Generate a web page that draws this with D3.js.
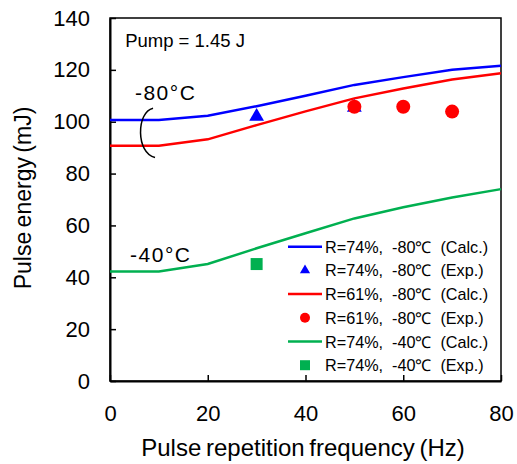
<!DOCTYPE html>
<html>
<head>
<meta charset="utf-8">
<script src="https://cdn.jsdelivr.net/npm/d3@7"></script>
<style>
  body { margin: 0; background: #fff; }
  svg text { font-family: Arial, "Liberation Sans", sans-serif; fill: #000; }
</style>
</head>
<body>
<svg id="chart" width="517" height="464"></svg>
<script>
// frequencies used by the calculated curves (Hz)
let freqs = [0, 10, 20, 30, 40, 50, 60, 70, 80];

// calculated pulse energies (mJ)
let calc74m80 = [100.7, 100.7, 102.3, 106, 110, 114.2, 117.2, 120, 121.6];
let calc61m80 = [90.7, 90.7, 93.2, 98.7, 104, 109, 112.8, 116.3, 118.7];
let calc74m40 = [42.2, 42.2, 45.1, 51.2, 57, 62.7, 67, 70.8, 74];

// experimental points
let exp74m80 = [{f: 30, e: 102}, {f: 50, e: 105.5}];
let exp61m80 = [{f: 50, e: 105.8}, {f: 60, e: 105.8}, {f: 70, e: 103.9}];
let exp74m40 = [{f: 30, e: 45.1}];

let xTicks = [0, 20, 40, 60, 80];
let yTicks = [0, 20, 40, 60, 80, 100, 120, 140];

let legendLabels = [
    "R=74%,  -80\u2103  (Calc.)",
    "R=74%,  -80\u2103  (Exp.)",
    "R=61%,  -80\u2103  (Calc.)",
    "R=61%,  -80\u2103  (Exp.)",
    "R=74%,  -40\u2103  (Calc.)",
    "R=74%,  -40\u2103  (Exp.)"
];

let blue = "#0000ff", red = "#ff0000", green = "#00b050";

let svg = d3.select("#chart");
let pLeft = 110, pRight = 501, pTop = 18, pBottom = 381;

let xScale = d3.scaleLinear().domain([0, 80]).range([pLeft, pRight]);
let yScale = d3.scaleLinear().domain([0, 140]).range([pBottom, pTop]);

// plot frame
svg.append("rect")
   .attr("x", pLeft).attr("y", pTop)
   .attr("width", pRight - pLeft).attr("height", pBottom - pTop)
   .attr("fill", "none").attr("stroke", "#000").attr("stroke-width", 1.5);

// axes, ticks point inward
let xAxis = svg.append("g")
   .attr("transform", "translate(0," + pBottom + ")")
   .call(d3.axisBottom(xScale).tickValues(xTicks).tickSizeInner(-6).tickSizeOuter(0).tickPadding(24));
let yAxis = svg.append("g")
   .attr("transform", "translate(" + pLeft + ",0)")
   .call(d3.axisLeft(yScale).tickValues(yTicks).tickSizeInner(-6).tickSizeOuter(0).tickPadding(20));

[xAxis, yAxis].forEach(function(ax) {
    ax.select(".domain").attr("stroke-width", 2);
    ax.selectAll(".tick line").attr("stroke-width", 1.5);
    ax.selectAll("text").attr("font-size", 22);
});
svg.selectAll("g").attr("font-family", null);

// axis titles
svg.append("text")
   .attr("x", 303).attr("y", 456)
   .attr("text-anchor", "middle").attr("font-size", 24)
   .attr("word-spacing", -2)
   .text("Pulse repetition frequency (Hz)");
svg.append("text")
   .attr("transform", "translate(31,198) rotate(-90)")
   .attr("text-anchor", "middle").attr("font-size", 23)
   .attr("word-spacing", -2)
   .text("Pulse energy (mJ)");

// calculated curves
let line = d3.line().x((d, i) => xScale(freqs[i])).y(d => yScale(d));
[[calc74m80, blue], [calc61m80, red], [calc74m40, green]].forEach(function(s) {
    svg.append("path")
       .datum(s[0])
       .attr("d", line)
       .attr("fill", "none")
       .attr("stroke", s[1])
       .attr("stroke-width", 2.5);
});

// experimental markers
svg.selectAll(".tri")
   .data(exp74m80).enter().append("path")
   .attr("transform", d => "translate(" + xScale(d.f) + "," + yScale(d.e) + ")")
   .attr("d", d3.symbol().type(d3.symbolTriangle).size(95))
   .attr("fill", blue);
svg.selectAll(".dot")
   .data(exp61m80).enter().append("circle")
   .attr("cx", d => xScale(d.f)).attr("cy", d => yScale(d.e))
   .attr("r", 7).attr("fill", red);
svg.selectAll(".sq")
   .data(exp74m40).enter().append("path")
   .attr("transform", d => "translate(" + xScale(d.f) + "," + yScale(d.e) + ")")
   .attr("d", d3.symbol().type(d3.symbolSquare).size(144))
   .attr("fill", green);

// annotations
svg.append("text")
   .attr("x", xScale(3.1)).attr("y", yScale(129))
   .attr("font-size", 18.5)
   .text("Pump = 1.45 J");
svg.append("text")
   .attr("x", xScale(5.1)).attr("y", yScale(108.4))
   .attr("font-size", 21).attr("letter-spacing", 1.5)
   .text("-80\u00b0C");
svg.append("text")
   .attr("x", xScale(4.1)).attr("y", yScale(45.9))
   .attr("font-size", 21).attr("letter-spacing", 1.5)
   .text("-40\u00b0C");

// bracket linking the two -80°C curves
let bx = xScale(8.6), bTop = yScale(105.2), bBot = yScale(86.2);
svg.append("path")
   .attr("d", "M" + (bx + 1) + "," + bTop +
              " C" + (bx - 16) + "," + (bTop + 4) + " " + (bx - 16) + "," + (bBot - 4) + " " + (bx + 3) + "," + bBot)
   .attr("fill", "none").attr("stroke", "#000").attr("stroke-width", 1.5);

// legend
let legX = 288, legY = 246.7, legStep = 23.7;
let legendKinds = [["line", blue], ["tri", blue], ["line", red], ["dot", red], ["line", green], ["sq", green]];
let leg = svg.append("g");
legendKinds.forEach(function(k, i) {
    let cy = legY + i * legStep;
    if (k[0] == "line") {
        leg.append("line")
           .attr("x1", legX).attr("x2", legX + 34)
           .attr("y1", cy).attr("y2", cy)
           .attr("stroke", k[1]).attr("stroke-width", 2.5);
    } else if (k[0] == "tri") {
        leg.append("path")
           .attr("transform", "translate(" + (legX + 17) + "," + cy + ")")
           .attr("d", d3.symbol().type(d3.symbolTriangle).size(45))
           .attr("fill", k[1]);
    } else if (k[0] == "dot") {
        leg.append("circle")
           .attr("cx", legX + 17).attr("cy", cy).attr("r", 5).attr("fill", k[1]);
    } else {
        leg.append("path")
           .attr("transform", "translate(" + (legX + 17) + "," + cy + ")")
           .attr("d", d3.symbol().type(d3.symbolSquare).size(100))
           .attr("fill", k[1]);
    }
    leg.append("text")
       .attr("x", legX + 37).attr("y", cy + 6)
       .attr("font-size", 16.2)
       .style("white-space", "pre")
       .text(legendLabels[i]);
});
</script>
</body>
</html>
